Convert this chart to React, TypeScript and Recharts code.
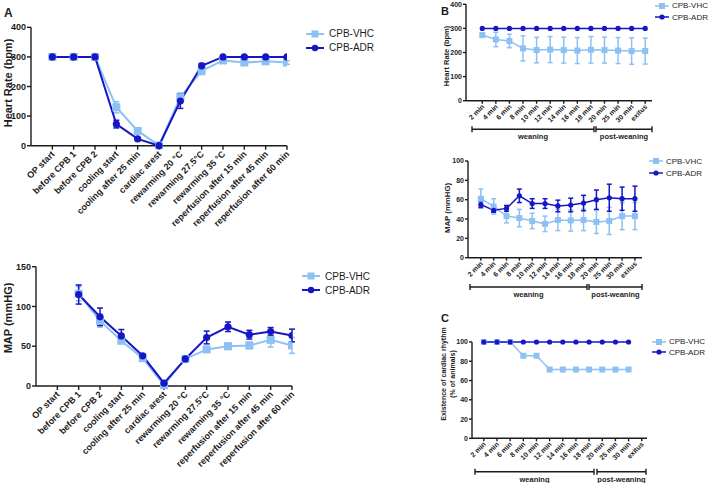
import { LineChart, Line, XAxis, YAxis, ErrorBar, Legend } from 'recharts';

const VHC = '#8ec1f3';
const ADR = '#1616c6';
const INK = '#1c1c1c';
const FONT = '"Liberation Sans", Arial, sans-serif';

// ─── Data ─────────────────────────────────────────────────────────────────────
const phases = [
  'OP start', 'before CPB 1', 'before CPB 2', 'cooling start', 'cooling after 25 min',
  'cardiac arest', 'rewarming 20 °C', 'rewarming 27.5°C', 'rewarming 35 °C',
  'reperfusion after 15 min', 'reperfusion after 45 min', 'reperfusion after 60 min',
];
const weaningTimes = [
  '2 min', '4 min', '6 min', '8 min', '10 min', '12 min', '14 min', '16 min',
  '18 min', '20 min', '25 min', '30 min', 'exitus',
];
const seriesOrder = ['CPB-VHC', 'CPB-ADR'];

// A: heart rate over the operation
const vhcHr = [300, 300, 300, 130, 50, 1, 164, 253, 288, 281, 285, 281];
const vhcHrSem = [0, 0, 0, 19, 10, 1, 13, 13, 4, 6, 4, 6];
const adrHr = [300, 300, 300, 73, 23, 0, 151, 270, 300, 300, 300, 300];
const adrHrSem = [0, 0, 0, 13, 3, 0, 25, 8, 0, 0, 0, 0];

// A: MAP over the operation
const vhcMap = [null, 116, 82, 57, 35, 1, 34, 46, 50, 51, 58, 51];
const vhcMapSem = [null, 9, 8, 4, 2, 1, 2, 2, 4, 4, 9, 10];
const adrMap = [null, 115, 87, 63, 38, 3.5, 34, 61, 74.5, 64.5, 68.5, 63.5];
const adrMapSem = [null, 12, 11, 8, 2, 1, 1, 8, 6, 5.5, 5, 8];

// B: heart rate during weaning
const vhcHrW = [272, 254, 248, 217, 210, 212, 210, 208, 211, 210, 208, 206, 206];
const vhcHrWSem = [8, 30, 28, 52, 53, 54, 54, 54, 55, 54, 54, 55, 54];
const adrHrW = [300, 300, 300, 300, 300, 300, 300, 300, 300, 300, 300, 300, 300];
const adrHrWSem = [0, 0, 0, 0, 0, 0, 0, 0, 0, 0, 0, 0, 0];

// B: MAP during weaning
const vhcMapW = [61, 53, 43, 41, 38, 35, 39, 38.5, 39, 37, 38, 43, 43];
const vhcMapWSem = [10, 8, 7, 9, 8, 8, 11, 11, 11, 12, 14, 14, 14];
const adrMapW = [55, 49, 51, 64, 56, 56, 53.5, 54.5, 56.5, 60, 62, 61, 61];
const adrMapWSem = [3, 2, 3, 7, 5, 5, 6, 7, 8, 10, 14, 12, 13];

// C: existence of cardiac rhythm (% of animals)
const vhcRhythm = [100, 100, 100, 85.7, 85.7, 71.4, 71.4, 71.4, 71.4, 71.4, 71.4, 71.4, null];
const adrRhythm = [100, 100, 100, 100, 100, 100, 100, 100, 100, 100, 100, 100, null];

// ─── Panel ────────────────────────────────────────────────────────────────────
type Num = number | null;

interface PanelProps {
  box: { left: number; top: number; width: number; height: number };
  plot: { x0: number; x1: number; y0: number; y1: number };
  labels: string[];
  xDomain: [number, number];
  yTicks: number[];
  vhc: Num[];
  vhcErr?: Num[];
  adr: Num[];
  adrErr?: Num[];
  small?: boolean;
  legendAt: { x: number; y: number; gap: number };
}

function SlantTick({ x, y, payload, labels, fs }: any) {
  return (
    <text
      x={x + 1}
      y={y}
      dy="0.3em"
      transform={`rotate(-45 ${x + 1} ${y})`}
      textAnchor="end"
      fontSize={fs}
      fontWeight="bold"
      fill={INK}
      fontFamily={FONT}
    >
      {labels[payload.value]}
    </text>
  );
}

function squareDot(size: number) {
  return (p: any) => {
    if (p.cx == null || p.cy == null || p.value == null) return <g key={p.index} />;
    return <rect key={p.index} x={p.cx - size / 2} y={p.cy - size / 2} width={size} height={size} fill={VHC} />;
  };
}

function Panel(props: PanelProps) {
  const { box, plot, labels, xDomain, yTicks, small, legendAt } = props;
  const rows = labels.map((label, i) => ({
    i,
    label,
    vhc: props.vhc[i],
    vhcErr: props.vhcErr ? props.vhcErr[i] : null,
    adr: props.adr[i],
    adrErr: props.adrErr ? props.adrErr[i] : null,
  }));
  const fs = small ? 7 : 9;
  const lw = small ? 1.5 : 2;
  const axis = { stroke: INK, strokeWidth: 1.4 };
  const legendFs = small ? 8 : 10;

  return (
    <div style={{ position: 'absolute', left: box.left, top: box.top }}>
      <LineChart
        width={box.width}
        height={box.height}
        data={rows}
        margin={{ top: plot.y0 - box.top, right: box.left + box.width - plot.x1, bottom: 0, left: 0 }}
      >
        <XAxis
          type="number"
          dataKey="i"
          domain={xDomain}
          ticks={labels.map((_, i) => i)}
          interval={0}
          allowDataOverflow
          height={box.top + box.height - plot.y1}
          axisLine={axis}
          tickLine={axis}
          tickSize={small ? 3 : 4}
          tickMargin={small ? 2 : 3}
          tick={<SlantTick labels={labels} fs={fs} />}
        />
        <YAxis
          type="number"
          domain={[yTicks[0], yTicks[yTicks.length - 1]]}
          ticks={yTicks}
          interval={0}
          width={plot.x0 - box.left}
          axisLine={axis}
          tickLine={axis}
          tickSize={small ? 3 : 4}
          tickMargin={1}
          tick={{ fontSize: fs, fontWeight: 'bold', fill: INK, fontFamily: FONT }}
        />
        <Legend
          layout="vertical"
          align="center"
          verticalAlign="middle"
          wrapperStyle={{ left: legendAt.x - box.left, top: legendAt.y - box.top, width: 'auto', height: 'auto' }}
          content={({ payload }: any) => {
            const items = [...(payload || [])].sort(
              (a: any, b: any) => seriesOrder.indexOf(a.value) - seriesOrder.indexOf(b.value),
            );
            return (
              <div style={{ fontFamily: FONT, fontSize: legendFs, color: INK }}>
                {items.map((e: any) => (
                  <div key={e.value} style={{ display: 'flex', alignItems: 'center', height: legendAt.gap }}>
                    <svg width={small ? 14 : 18} height={10} style={{ marginRight: small ? 3 : 5 }}>
                      <line x1={0} y1={5} x2={small ? 14 : 18} y2={5} stroke={e.color} strokeWidth={lw} />
                      {e.type === 'square' ? (
                        <rect x={(small ? 7 : 9) - (small ? 3 : 3.5)} y={5 - (small ? 3 : 3.5)} width={small ? 6 : 7} height={small ? 6 : 7} fill={e.color} />
                      ) : (
                        <circle cx={small ? 7 : 9} cy={5} r={small ? 2.6 : 3.2} fill={e.color} />
                      )}
                    </svg>
                    <span>{e.value}</span>
                  </div>
                ))}
              </div>
            );
          }}
        />
        <Line
          name="CPB-VHC"
          dataKey="vhc"
          legendType="square"
          stroke={VHC}
          strokeWidth={lw}
          dot={squareDot(small ? 6 : 8)}
          activeDot={false}
          isAnimationActive={false}
        >
          {props.vhcErr && (
            <ErrorBar dataKey="vhcErr" direction="y" width={small ? 2.5 : 3} stroke={VHC} strokeWidth={1.5} />
          )}
        </Line>
        <Line
          name="CPB-ADR"
          dataKey="adr"
          legendType="circle"
          stroke={ADR}
          strokeWidth={lw}
          dot={{ r: small ? 2.6 : 3.6, fill: ADR, stroke: ADR, strokeWidth: 0 }}
          activeDot={false}
          isAnimationActive={false}
        >
          {props.adrErr && (
            <ErrorBar dataKey="adrErr" direction="y" width={small ? 2.5 : 3} stroke={ADR} strokeWidth={1.5} />
          )}
        </Line>
      </LineChart>
    </div>
  );
}

// ─── Annotations (panel letters, axis titles, phase brackets) ───────────────
const brackets = [
  { y: 129.3, segs: [[472, 594, 'weaning'], [596, 652, 'post-weaning']] },
  { y: 287, segs: [[470, 587, 'weaning'], [589, 642, 'post-weaning']] },
  { y: 471.7, segs: [[475, 594, 'weaning'], [597, 646, 'post-weaning']] },
] as const;

function Overlay() {
  const t = { fontFamily: FONT, fontWeight: 'bold' as const, fill: INK };
  return (
    <svg width={709} height={483} style={{ position: 'absolute', left: 0, top: 0, pointerEvents: 'none' }}>
      <text x={4} y={17} fontSize={12} {...t}>A</text>
      <text x={441} y={15} fontSize={11} {...t}>B</text>
      <text x={441} y={322} fontSize={11} {...t}>C</text>

      <text transform="translate(12 83) rotate(-90)" textAnchor="middle" fontSize={11} {...t}>Heart Rate (bpm)</text>
      <text transform="translate(12 318) rotate(-90)" textAnchor="middle" fontSize={11} {...t}>MAP (mmHG)</text>
      <text transform="translate(449 56) rotate(-90)" textAnchor="middle" fontSize={7.5} {...t}>Heart Rate (bpm)</text>
      <text transform="translate(450 208) rotate(-90)" textAnchor="middle" fontSize={7.8} {...t}>MAP (mmHG)</text>
      <text transform="translate(446 374) rotate(-90)" textAnchor="middle" fontSize={7} {...t}>
        <tspan x={0} dy={0}>Existence of cardiac rhythm</tspan>
        <tspan x={0} dy={9}>(% of animals)</tspan>
      </text>

      {brackets.map((b, bi) =>
        b.segs.map(([a, c, label], si) => (
          <g key={`${bi}-${si}`}>
            <line x1={a} y1={b.y} x2={c} y2={b.y} stroke={INK} strokeWidth={1.4} />
            <line x1={a} y1={b.y - 3} x2={a} y2={b.y + 3} stroke={INK} strokeWidth={1.4} />
            <line x1={c} y1={b.y - 3} x2={c} y2={b.y + 3} stroke={INK} strokeWidth={1.4} />
            <text x={(a + c) / 2} y={b.y + 10} textAnchor="middle" fontSize={7.5} {...t}>{label}</text>
          </g>
        )),
      )}
    </svg>
  );
}

export default function App() {
  return (
    <div style={{ position: 'absolute', left: 0, top: 0, width: 709, height: 483, background: '#fff', overflow: 'hidden' }}>
      <Panel
        box={{ left: 0, top: 0, width: 400, height: 240 }}
        plot={{ x0: 31, x1: 287, y0: 27.3, y1: 145.7 }}
        labels={phases}
        xDomain={[-1, 11]}
        yTicks={[0, 100, 200, 300, 400]}
        vhc={vhcHr}
        vhcErr={vhcHrSem}
        adr={adrHr}
        adrErr={adrHrSem}
        legendAt={{ x: 306, y: 26.5, gap: 14 }}
      />
      <Panel
        box={{ left: 0, top: 240, width: 400, height: 243 }}
        plot={{ x0: 36, x1: 292, y0: 266.7, y1: 386 }}
        labels={phases}
        xDomain={[-1, 11]}
        yTicks={[0, 50, 100, 150]}
        vhc={vhcMap}
        vhcErr={vhcMapSem}
        adr={adrMap}
        adrErr={adrMapSem}
        legendAt={{ x: 302, y: 269, gap: 14 }}
      />
      <Panel
        box={{ left: 440, top: 0, width: 269, height: 150 }}
        plot={{ x0: 466, x1: 652, y0: 4.3, y1: 100.7 }}
        labels={weaningTimes}
        xDomain={[-1.2, 12.5]}
        yTicks={[0, 100, 200, 300, 400]}
        vhc={vhcHrW}
        vhcErr={vhcHrWSem}
        adr={adrHrW}
        adrErr={adrHrWSem}
        small
        legendAt={{ x: 655, y: 0, gap: 11.6 }}
      />
      <Panel
        box={{ left: 440, top: 150, width: 269, height: 160 }}
        plot={{ x0: 468, x1: 642, y0: 161, y1: 257.7 }}
        labels={weaningTimes}
        xDomain={[-1, 12.55]}
        yTicks={[0, 20, 40, 60, 80, 100]}
        vhc={vhcMapW}
        vhcErr={vhcMapWSem}
        adr={adrMapW}
        adrErr={adrMapWSem}
        small
        legendAt={{ x: 649, y: 155, gap: 12.3 }}
      />
      <Panel
        box={{ left: 440, top: 310, width: 269, height: 173 }}
        plot={{ x0: 472, x1: 647, y0: 342, y1: 438.3 }}
        labels={weaningTimes}
        xDomain={[-0.9, 12.4]}
        yTicks={[0, 20, 40, 60, 80, 100]}
        vhc={vhcRhythm}
        adr={adrRhythm}
        small
        legendAt={{ x: 652, y: 336.5, gap: 10.5 }}
      />
      <Overlay />
    </div>
  );
}
